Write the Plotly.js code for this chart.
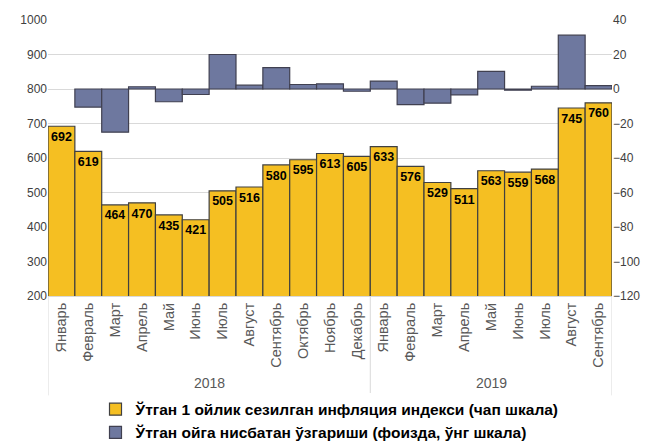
<!DOCTYPE html>
<html><head><meta charset="utf-8">
<script src="https://cdn.plot.ly/plotly-3.0.1.min.js"></script>
<style>html,body{margin:0;padding:0;background:#fff}#c{width:648px;height:444px}</style>
</head><body><div id="c"></div>
<script>
const months = ["Январь","Февраль","Март","Апрель","Май","Июнь","Июль","Август","Сентябрь","Октябрь","Ноябрь","Декабрь",
                "Январь","Февраль","Март","Апрель","Май","Июнь","Июль","Август","Сентябрь"];
const years = ["2018","2019"];
const indexValues = [692,619,464,470,435,421,505,516,580,595,613,605,633,576,529,511,563,559,568,745,760];
const changeValues = [null,-10.5,-25.0,1.3,-7.4,-3.2,20.0,2.2,12.4,2.6,3.0,-1.3,4.6,-9.0,-8.2,-3.4,10.2,-0.7,1.6,31.2,2.0];
const seriesNames = ["Ўтган 1 ойлик сезилган инфляция индекси (чап шкала)","Ўтган ойга нисбатан ўзгариши (фоизда, ўнг шкала)"];

const xs = months.map((m,i)=>i);
const narrow = "Liberation Sans Narrow, Arial Narrow, Liberation Sans, Arial, sans-serif";
const sans = "Liberation Sans, Arial, sans-serif";

const traces = [
  {type:'bar', x:xs, y:indexValues, name:seriesNames[0], width:1,
   marker:{color:'#F5BF22', line:{color:'#404040', width:1.2}},
   text:indexValues.map(String), textposition:'inside', insidetextanchor:'end',
   textfont:{family:narrow, size:15, color:'#000', weight:'bold'},
   textangle:0, cliponaxis:false, hoverinfo:'none'},
  {type:'bar', x:xs, y:changeValues, name:seriesNames[1], yaxis:'y2', width:1,
   marker:{color:'#6E789F', line:{color:'#404050', width:1.2}}, hoverinfo:'none'}
];

const shapes = [
  {type:'line', xref:'x', yref:'paper', x0:-0.5, x1:-0.5, y0:0, y1:-0.36, line:{color:'#d9d9d9', width:1}},
  {type:'line', xref:'x', yref:'paper', x0:11.5, x1:11.5, y0:0, y1:-0.36, line:{color:'#d9d9d9', width:1}},
  {type:'line', xref:'x', yref:'paper', x0:20.5, x1:20.5, y0:0, y1:-0.36, line:{color:'#d9d9d9', width:1}}
];

const annotations = [
  {xref:'x', yref:'paper', x:5.5, y:-0.315, text:years[0], showarrow:false, yanchor:'middle', font:{family:sans, size:14, color:'#595959'}},
  {xref:'x', yref:'paper', x:16, y:-0.315, text:years[1], showarrow:false, yanchor:'middle', font:{family:sans, size:14, color:'#595959'}}
];

const layout = {
  width:648, height:444,
  margin:{l:48, r:36, t:20, b:148, autoexpand:false},
  paper_bgcolor:'#fff', plot_bgcolor:'#fff',
  barmode:'overlay', bargap:0,
  showlegend:true,
  legend:{orientation:'v', x:0.5, xanchor:'center', y:-0.35, yanchor:'top',
          font:{family:narrow, size:15.5, color:'#000', weight:'bold'},
          tracegroupgap:0, traceorder:'normal'},
  xaxis:{type:'linear', range:[-0.5,20.5], tickmode:'array', tickvals:xs, ticktext:months, automargin:false,
         tickangle:-90, tickfont:{family:sans, size:14.5, color:'#595959'},
         showgrid:false, zeroline:false, showline:true, linecolor:'#d9d9d9', linewidth:1, ticks:''},
  yaxis:{range:[200,1000], dtick:100, automargin:false, tickfont:{family:sans, size:12, color:'#404040'},
         gridcolor:'#d9d9d9', gridwidth:1, zeroline:false, showline:false, ticks:''},
  yaxis2:{range:[-120,40], dtick:20, overlaying:'y', side:'right', showgrid:false, zeroline:false, automargin:false,
          tickfont:{family:sans, size:12, color:'#404040'}},
  shapes:shapes, annotations:annotations
};
Plotly.newPlot('c', traces, layout, {displayModeBar:false, staticPlot:true});
</script></body></html>
